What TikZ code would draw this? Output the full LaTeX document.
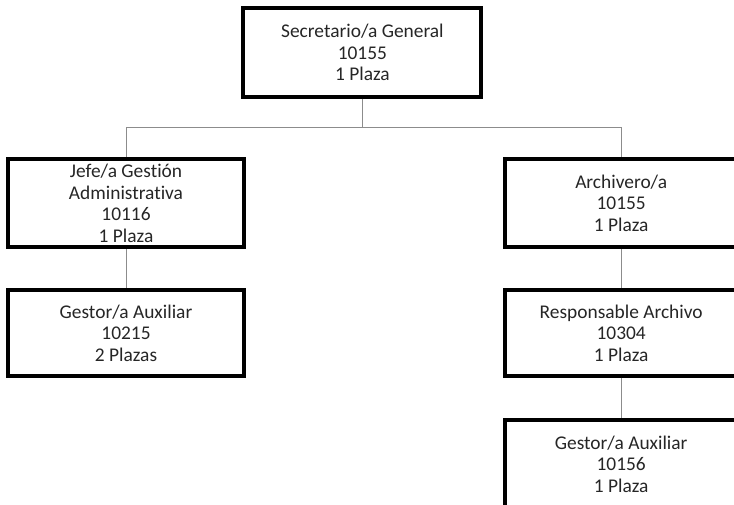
\documentclass[tikz,border=0pt]{standalone}
\usepackage{fontspec}
\setmainfont[Ligatures=NoCommon]{Carlito}
\usetikzlibrary{positioning}

\begin{document}
\begin{tikzpicture}[
        puesto/.style={draw=black,line width=2.8pt,fill=white,align=center,text=black!85,
          font=\fontsize{13.8}{15.4}\selectfont,minimum height=2.2cm,inner sep=0pt},
        enlace/.style={draw=black!45,line width=0.6pt}]
        % Frame
        \clip (0,0) rectangle (18.35,-12.6);
        \fill[white] (0,0) rectangle (18.35,-12.6);

        % Posts
        \node[puesto,minimum width=5.95cm,minimum height=2.23cm] (secretario) at (9.06,-1.31) {Secretario/a General\\10155\\1 Plaza};
        \node[puesto,minimum width=5.9cm] (jefe) at (3.15,-5.08) {Jefe/a Gestión\\Administrativa\\10116\\1 Plaza};
        \node[puesto,minimum width=5.9cm,minimum height=2.15cm] (gestorA) at (3.15,-8.33) {Gestor/a Auxiliar\\10215\\2 Plazas};
        \node[puesto,minimum width=5.8cm] (archivero) at (15.53,-5.08) {Archivero/a\\10155\\1 Plaza};
        \node[puesto,minimum width=5.8cm,minimum height=2.15cm] (responsable) at (15.53,-8.33) {Responsable Archivo\\10304\\1 Plaza};
        \node[puesto,minimum width=5.8cm] (gestorB) at (15.53,-11.6) {Gestor/a Auxiliar\\10156\\1 Plaza};

        % Links
        \coordinate (barra) at (0,-3.18);
        \draw[enlace] (secretario.south) -- (secretario.south |- barra);
        \draw[enlace] (jefe.north) -- (jefe.north |- barra) -- (archivero.north |- barra) -- (archivero.north);
        \draw[enlace] (jefe.south) -- (gestorA.north);
        \draw[enlace] (archivero.south) -- (responsable.north);
        \draw[enlace] (responsable.south) -- (gestorB.north);
\end{tikzpicture}
\end{document}
